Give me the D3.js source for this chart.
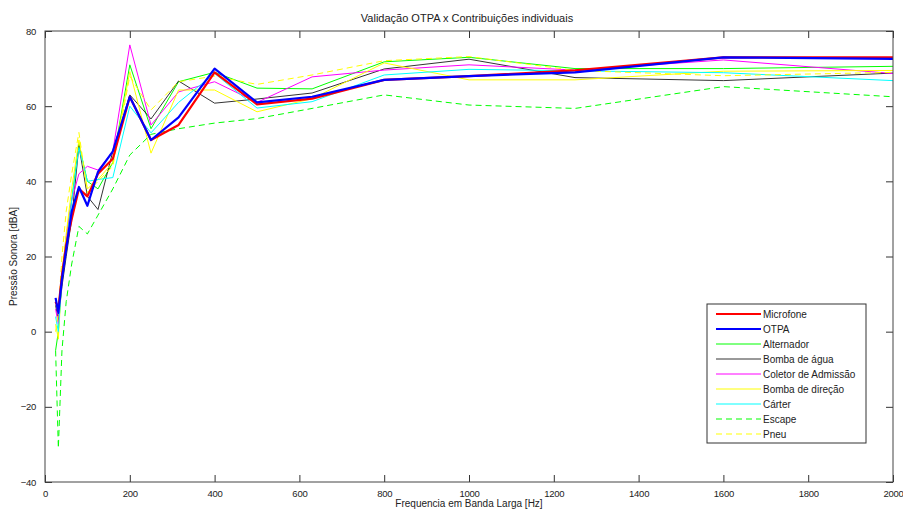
<!DOCTYPE html>
<html><head><meta charset="utf-8">
<script src="https://cdn.jsdelivr.net/npm/d3@7"></script>
<style>
body{margin:0;background:#fff;}
text{font-family:"Liberation Sans",Arial,sans-serif;}
</style></head>
<body><svg id="c" width="903" height="510"></svg>
<script>
const freqs = [25,31.5,40,50,63,80,100,125,160,200,250,315,400,500,630,800,1000,1250,1600,2000];
const microfone = [8,6,15,23,30,38,36,42,46,62.5,51,55,69,60.5,62,67,68,69.5,73,73];
const otpa = [9,5,14,22,32,38.5,33.5,42.5,48,62.5,51,57,70,61,62.5,67,68,69,73,72.6];
const alternador = [-5,0,15,25,35,50,40,38,45,71,54,66.5,69,64.8,64.6,71.8,73,70,70,70.6];
const bombaAgua = [7,3,12,20,30,49.5,36,32.5,48,63,56.6,66.7,60.8,61.9,63.5,69.9,72.5,67.6,66.8,68.8];
const coletor = [6,2,15,25,35,42,44,43,48,76.3,55,63.8,66.5,61,67.8,69.6,71,69.6,72.3,68.7];
const bombaDirecao = [2,-2,15,26,38,51,38,40.5,45,69.2,47.5,64.3,64.3,58.5,62,71.5,67,67,69.3,69.5];
const carter = [4,0,14,22,35,49,40,40.5,41,60,52.9,61,68.7,59.5,61.2,68.3,69.8,69.4,68.9,66.8];
const escape = [-5,-31,-5,8,18,28,26,31,38,47,52.5,54,55.5,56.7,59.4,63,60.3,59.4,65.2,62.5];
const pneu = [0,5,20,32,42,53,37,40,44,68,59,66.5,68,65.8,68.3,72.1,73.2,69.5,68.1,69];
const seriesNames = ["Microfone","OTPA","Alternador","Bomba de água","Coletor de Admissão","Bomba de direção","Cárter","Escape","Pneu"];
const seriesValues = [microfone,otpa,alternador,bombaAgua,coletor,bombaDirecao,carter,escape,pneu];
const xTicks = [0,200,400,600,800,1000,1200,1400,1600,1800,2000];
const yTicks = [-40,-20,0,20,40,60,80];

const styles = [
 {c:"#ff0000",w:2.2,d:null},
 {c:"#0000ff",w:2.2,d:null},
 {c:"#00ff00",w:1,d:null},
 {c:"#000000",w:0.8,d:null},
 {c:"#ff00ff",w:1,d:null},
 {c:"#ffff00",w:1,d:null},
 {c:"#00ffff",w:1,d:null},
 {c:"#00ff00",w:1,d:"6,4"},
 {c:"#ffff00",w:1,d:"6,4"}
];

const svg = d3.select("#c");
const L=45,R=893,T=31,B=482;
const x = d3.scaleLinear().domain([0,2000]).range([L,R]);
const y = d3.scaleLinear().domain([-40,80]).range([B,T]);

svg.append("rect").attr("x",0).attr("y",0).attr("width",903).attr("height",510).attr("fill","#fff");

const g = svg.append("g");
const line = d3.line().x((d,i)=>x(freqs[i])).y(d=>y(d));
const order = [2,3,4,5,6,7,8,0,1];
order.forEach(k=>{
  g.append("path").datum(seriesValues[k]).attr("d",line)
   .attr("fill","none").attr("stroke",styles[k].c).attr("stroke-width",styles[k].w)
   .attr("stroke-dasharray",styles[k].d).attr("stroke-linejoin","round");
});

// axes
const fs = "9.5px";
const axB = d3.axisBottom(x).tickValues(xTicks).tickSize(-7).tickPadding(8).tickFormat(d3.format("d"));
const axT = d3.axisTop(x).tickValues(xTicks).tickSize(-7).tickFormat("");
const axL = d3.axisLeft(y).tickValues(yTicks).tickSize(-7).tickPadding(9).tickFormat(d3.format("d"));
const axR = d3.axisRight(y).tickValues(yTicks).tickSize(-7).tickFormat("");
[[axB,`translate(0,${B})`],[axT,`translate(0,${T})`],[axL,`translate(${L},0)`],[axR,`translate(${R},0)`]].forEach(([a,t])=>{
  const gg = svg.append("g").attr("transform",t).call(a);
  gg.select(".domain").remove();
  gg.selectAll("line").attr("stroke","#333");
  gg.selectAll("text").attr("font-size",fs).attr("fill","#222").style("letter-spacing","-0.25px")
    .style("font-family","'Liberation Sans',Arial,sans-serif");
});
svg.append("rect").attr("x",L).attr("y",T).attr("width",R-L).attr("height",B-T)
  .attr("fill","none").attr("stroke","#444").attr("stroke-width",1);

svg.append("text").attr("x",(L+R)/2 - 2).attr("y",22).attr("text-anchor","middle").attr("font-size","11px").attr("fill","#222")
  .text("Validação OTPA x Contribuições individuais");
svg.append("text").attr("x",(L+R)/2).attr("y",507).attr("text-anchor","middle").attr("font-size","10px").attr("fill","#222")
  .text("Frequencia em Banda Larga [Hz]");
svg.append("text").attr("transform",`translate(17,${(T+B)/2}) rotate(-90)`).attr("text-anchor","middle").attr("font-size","10px").attr("fill","#222")
  .text("Pressão Sonora [dBA]");

// legend
const lg = svg.append("g");
lg.append("rect").attr("x",707).attr("y",304).attr("width",159).attr("height",139).attr("fill","#fff").attr("stroke","#333");
seriesNames.forEach((n,i)=>{
  const yy = 314 + i*15;
  lg.append("line").attr("x1",716).attr("x2",761).attr("y1",yy).attr("y2",yy)
    .attr("stroke",styles[i].c).attr("stroke-width",styles[i].w).attr("stroke-dasharray",styles[i].d);
  lg.append("text").attr("x",763).attr("y",yy+3.5).attr("font-size","10px").attr("fill","#222").text(n);
});
</script></body></html>
